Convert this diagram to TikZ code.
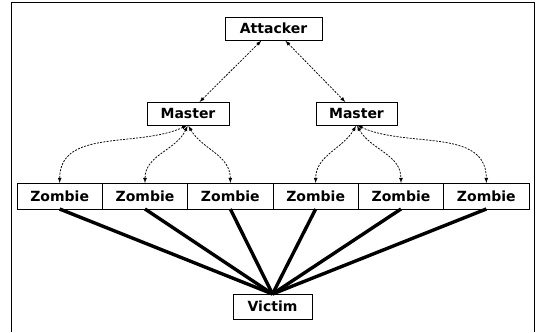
\documentclass[tikz,border=0pt]{standalone}
\usepackage{fontspec}
\setmainfont{DejaVu Sans}
\usetikzlibrary{arrows}
\tikzstyle{box} = [draw,line width=0.9pt,inner sep=0pt,outer sep=0pt,font=\fontsize{14}{16}\selectfont\bfseries]
\tikzstyle{ctrl} = [<->,dash pattern=on 2pt off 1.3pt,line width=0.75pt,shorten <=1pt]
\tikzstyle{flood} = [line width=3.4pt]

\begin{document}
\begin{tikzpicture}[x=1pt,y=-1pt,>=latex]
    \useasboundingbox (0,0) rectangle (538,332);
    \draw[line width=0.8pt] (11,332) -- (11,2) -- (534,2) -- (534,332);

% Draw blocks
    \def\zw{85.33}
    \node[box,minimum width=97pt,minimum height=23pt] at (273.5,28.5) (attacker) {Attacker};
    \node[box,minimum width=82pt,minimum height=23pt] at (188,113.5) (masterA) {Master};
    \node[box,minimum width=81pt,minimum height=23pt] at (356.5,113.5) (masterB) {Master};
    \foreach \i in {1,...,6} {
        \node[box,minimum width=\zw pt,minimum height=26pt] at (17+\zw*\i-\zw/2,196) (zombie\i) {Zombie};
    }
    \node[box,minimum width=79pt,minimum height=25pt] at (272.5,306.5) (victim) {Victim};

    % join up
    \draw[ctrl] (attacker) -- (masterA);
    \draw[ctrl] (attacker) -- (masterB);
    \draw[ctrl] (masterA.south) to[out=205,in=90] (zombie1.north);
    \draw[ctrl] (masterA.south) to[out=245,in=90] (zombie2.north);
    \draw[ctrl] (masterA.south) to[out=-60,in=90] (zombie3.north);
    \draw[ctrl] (masterB.south) to[out=240,in=90] (zombie4.north);
    \draw[ctrl] (masterB.south) to[out=-60,in=90] (zombie5.north);
    \draw[ctrl] (masterB.south) to[out=-25,in=90] (zombie6.north);
    \foreach \i in {1,...,6} {
        \draw[flood] (zombie\i.south) -- (victim.north);
    }
\end{tikzpicture}
\end{document}
